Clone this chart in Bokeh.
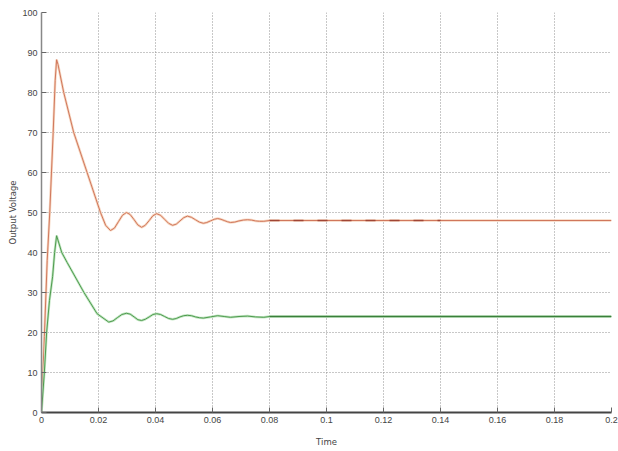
from bokeh.plotting import figure
from bokeh.models import FixedTicker
from bokeh.embed import file_html
from bokeh.resources import INLINE

# ---- data ----
orange_t = [0.0, 0.001, 0.002, 0.0029, 0.0041, 0.0048, 0.0053, 0.0058, 0.0078, 0.0113,
            0.0160, 0.0207, 0.0225, 0.0242, 0.0256, 0.0270, 0.0284, 0.0298, 0.0311, 0.0325,
            0.0338, 0.0351, 0.0364, 0.0378, 0.0391, 0.0404, 0.0418, 0.0432, 0.0446, 0.0460,
            0.0473, 0.0486, 0.0499, 0.0512, 0.0526, 0.0540, 0.0554, 0.0568, 0.0580, 0.0593,
            0.0606, 0.0618, 0.0630, 0.0641, 0.0652, 0.0663, 0.0678, 0.0693, 0.0708, 0.0723,
            0.0737, 0.0751, 0.0765, 0.0780, 0.0800, 0.2000]
orange_v = [0.0, 19.0, 38.0, 50.0, 70.0, 83.0, 88.2, 87.0, 80.0, 70.0,
            60.0, 50.0, 46.8, 45.5, 46.1, 47.7, 49.3, 50.0, 49.5, 48.2,
            46.9, 46.3, 46.8, 48.0, 49.2, 49.7, 49.3, 48.3, 47.3, 46.8,
            47.1, 47.9, 48.7, 49.1, 48.8, 48.2, 47.6, 47.3, 47.5, 47.9,
            48.3, 48.5, 48.3, 48.0, 47.7, 47.5, 47.6, 47.9, 48.1, 48.2,
            48.1, 47.9, 47.8, 47.8, 48.0, 48.0]

green_t = [0.0, 0.001, 0.0018, 0.0028, 0.0039, 0.0046, 0.0053, 0.0071, 0.0090, 0.0149,
           0.0195, 0.0236, 0.0251, 0.0266, 0.0282, 0.0298, 0.0311, 0.0325, 0.0338, 0.0351,
           0.0364, 0.0378, 0.0391, 0.0404, 0.0418, 0.0432, 0.0446, 0.0460, 0.0473, 0.0486,
           0.0499, 0.0512, 0.0526, 0.0540, 0.0554, 0.0568, 0.0593, 0.0618, 0.0641, 0.0663,
           0.0693, 0.0723, 0.0751, 0.0780, 0.0800, 0.2000]
green_v = [0.0, 10.0, 20.0, 28.0, 34.0, 40.0, 44.2, 40.0, 37.5, 30.0,
           24.7, 22.6, 22.9, 23.7, 24.5, 24.8, 24.6, 23.9, 23.2, 23.0,
           23.3, 23.9, 24.5, 24.7, 24.5, 24.0, 23.5, 23.3, 23.5, 23.9,
           24.2, 24.3, 24.2, 23.9, 23.7, 23.6, 23.9, 24.2, 24.0, 23.8,
           24.0, 24.1, 23.9, 23.8, 24.0, 24.0]

dash_t = [0.08, 0.14]
dash_v = [48.0, 48.0]
flat_green_t = [0.08, 0.2]
flat_green_v = [24.0, 24.0]

x_ticks = [0, 0.02, 0.04, 0.06, 0.08, 0.1, 0.12, 0.14, 0.16, 0.18, 0.2]
x_labels = ["0", "0.02", "0.04", "0.06", "0.08", "0.1", "0.12", "0.14", "0.16", "0.18", "0.2"]
y_ticks = [0, 10, 20, 30, 40, 50, 60, 70, 80, 90, 100]

FONT = "Liberation Sans"

p = figure(width=618, height=451, x_range=(0, 0.2), y_range=(0, 100),
           output_backend="svg", toolbar_location=None,
           min_border_left=41, min_border_right=7, min_border_top=12, min_border_bottom=39)
p.outline_line_color = None
p.background_fill_color = "white"
p.border_fill_color = "white"

# grid
for g in (p.xgrid, p.ygrid):
    g.grid_line_color = "#909090"
    g.grid_line_dash = "1 2"
    g.grid_line_width = 1
p.xgrid.ticker = FixedTicker(ticks=x_ticks)
p.ygrid.ticker = FixedTicker(ticks=y_ticks)

# axes
p.xaxis.ticker = FixedTicker(ticks=x_ticks)
p.xaxis.major_label_overrides = {t: l for t, l in zip(x_ticks, x_labels)}
p.yaxis.ticker = FixedTicker(ticks=y_ticks)
for ax in (p.xaxis, p.yaxis):
    ax.major_tick_in = 5
    ax.major_tick_out = 0
    ax.minor_tick_in = 0
    ax.minor_tick_out = 0
    ax.major_tick_line_color = "#666666"
    ax.major_label_text_font = FONT
    ax.major_label_text_font_size = "9px"
    ax.major_label_text_color = "#444444"
    ax.axis_label_text_font = "DejaVu Sans"
    ax.axis_label_text_font_size = "8.5px"
    ax.axis_label_text_font_style = "normal"
    ax.axis_label_text_color = "#444444"
p.xaxis.axis_line_color = "#444444"
p.xaxis.axis_line_width = 2
p.yaxis.axis_line_color = "#888888"
p.yaxis.axis_line_width = 1.5
p.xaxis.major_label_standoff = 4
p.yaxis.major_label_standoff = 4
p.xaxis.axis_label = "Time"
p.yaxis.axis_label = "Output Voltage"
p.xaxis.axis_label_standoff = 11
p.yaxis.axis_label_standoff = 1

# curves
p.line(orange_t, orange_v, line_color="#f6d6c0", line_width=2.5)
p.line(orange_t, orange_v, line_color="#d0775c", line_width=1)
p.line(dash_t, dash_v, line_color="#a04535", line_width=1.3, line_dash="10 14")
p.line(green_t, green_v, line_color="#c2e6c2", line_width=2.5)
p.line(green_t, green_v, line_color="#4f9a4f", line_width=1)
p.line(flat_green_t, flat_green_v, line_color="#3a7f3a", line_width=1.3)

open("out.html", "w").write(file_html(p, INLINE))
